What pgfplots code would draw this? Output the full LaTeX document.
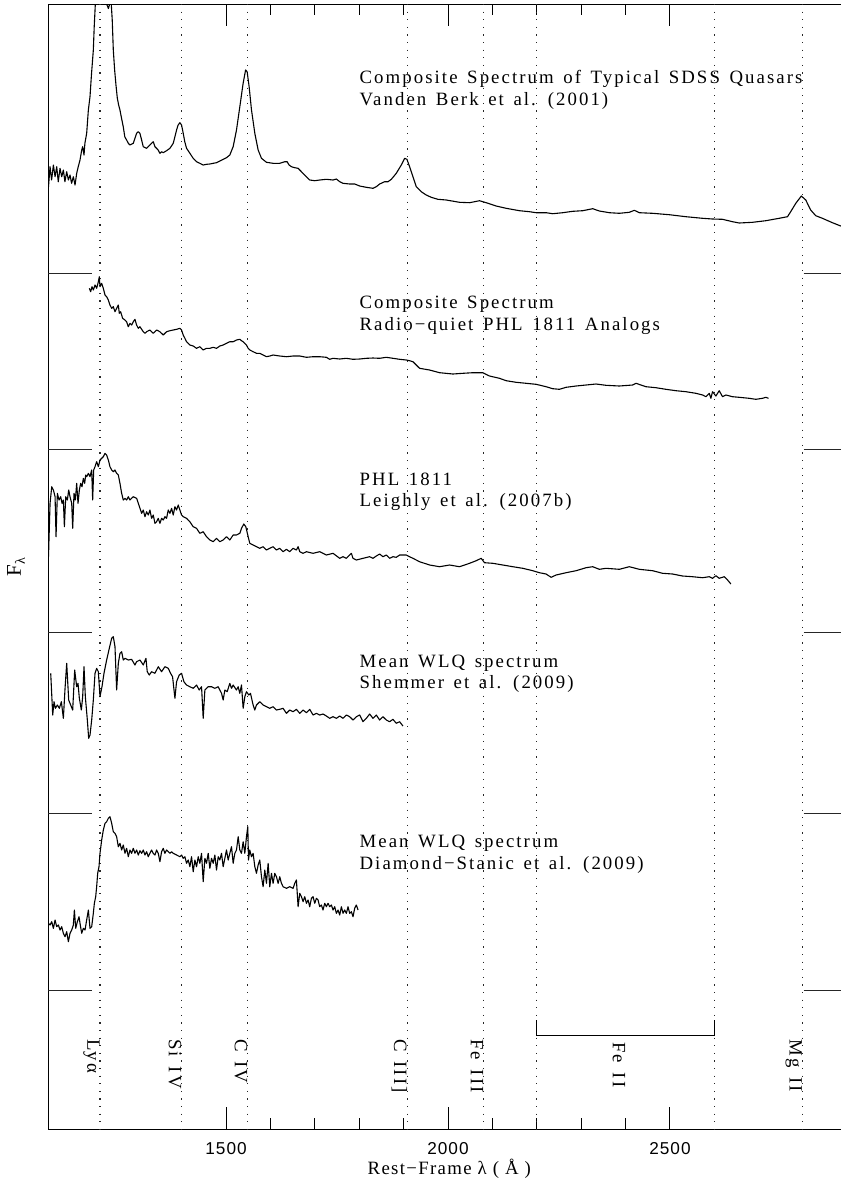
\documentclass[border=0pt]{standalone}
\usepackage{fontspec}
\setmainfont{Liberation Serif}
\newfontfamily\hfont{Liberation Serif}[LetterSpace=11]
\newfontfamily\xfont{Liberation Serif}[LetterSpace=7]
\newfontfamily\tfont{Liberation Sans}[LetterSpace=6]
\usepackage{pgfplots}
\pgfplotsset{compat=1.18}

\newcommand{\ann}{\fontsize{9.4}{11}\hfont\spaceskip=4.8pt\relax}
\tikzset{
  spec/.style={black, line width=0.55pt, mark=none, line join=round},
  dl/.style={black!85, line width=0.6pt, dash pattern=on 0.6pt off 3.2pt},
  tk/.style={black!85, line width=0.5pt},
  lab/.style={font=\ann, rotate=-90, anchor=north west, inner sep=0pt},
  txt/.style={font=\ann, anchor=base west, inner sep=0pt},
}

\begin{document}
\begin{tikzpicture}
\begin{axis}[
  at={(0,0)}, anchor=south west,
  scale only axis, width=399.5pt, height=562.5pt,
  xmin=1100, xmax=2900, ymin=4, ymax=1129, y dir=reverse,
  xtick={1500,2000,2500}, xticklabels={1500,2000,2500},
  minor x tick num=4,
  ytick=\empty,
  tick align=inside,
  major tick length=11pt, minor tick length=5.5pt,
  xticklabel style={font=\fontsize{8.6}{9}\tfont, anchor=north, inner sep=0pt, yshift=-6.5pt},
  axis line style={line width=0.5pt},
  every tick/.style={black, line width=0.5pt},
  clip mode=individual,
]

% reference lines
\pgfplotsinvokeforeach{1216,1400,1549,1909,2080,2200,2600,2798}{
  \draw[dl] (axis cs:#1,4) -- (axis cs:#1,1129);
}
% long y ticks (no values)
\pgfplotsinvokeforeach{273,449,632,813,990}{
  \draw[tk] (axis cs:1100,#1) -- (axis cs:1199,#1);
  \draw[tk] (axis cs:2801,#1) -- (axis cs:2900,#1);
}

% Vanden Berk et al. (2001)
\addplot[spec] coordinates {
(1100,186.7)(1103.5,166.7)(1107,180)(1111,165)(1114.8,176.7)(1118.5,166.7)(1122,181.7)(1126,168.3)
(1129.8,176.7)(1133.5,170)(1137,181.7)(1141,171.7)(1144.8,180)(1148.5,175)(1152,183.3)(1156,176.7)
(1159.8,185)(1163.5,173.3)(1167,166.7)(1171,160)(1174.8,150)(1177,146.7)(1180,155)(1182,143.3)
(1186,133.3)(1189.8,110)(1193.5,96.7)(1197,73.3)(1201,50)(1203,26.7)(1205.5,4)(1210,-90)(1216,-160)
(1223,-90)(1231,4)(1235,8.5)(1238.5,3)(1241,1)(1243.6,20)(1246,50)(1249,70)(1252,85)(1255,98)
(1258,105)(1261,110)(1264,117)(1268.5,127)(1272,137)(1276,140)(1279.8,143.3)(1283.5,145)(1291,143.3)
(1294.8,138.3)(1298.5,133.3)(1302,131.7)(1306,133.3)(1309.8,140)(1313.5,146.7)(1321,148.3)(1328.5,145)
(1332,143.3)(1336,141.7)(1339.8,146.7)(1343.5,148.3)(1347,150)(1351,153.3)(1354.8,151.7)(1358.5,152.7)
(1366,150.7)(1373.5,148.3)(1381,143.3)(1384.8,136.7)(1388.5,130)(1392,125)(1396,122.7)(1399.8,125)
(1403.5,133.3)(1407,141.7)(1411,148.3)(1418.5,153.3)(1426,158.3)(1433.5,161.7)(1441,163.3)(1448.5,165)
(1456,164.3)(1463.5,164)(1471,163.3)(1478.5,162.7)(1486,161)(1493.5,159.3)(1501,157.7)(1508.5,155)
(1516,146.7)(1523.5,130)(1531,106.7)(1538.5,83.3)(1544,70)(1547.5,71.7)(1552,86.7)(1557.3,110)
(1564.8,133.3)(1572.3,150)(1579.8,158.3)(1591,162.3)(1606,163.3)(1621,163.3)(1632.3,161.7)(1637.5,161.7)
(1642,165)(1647.3,166.7)(1654.8,167.7)(1662.3,168.3)(1669.8,171.7)(1681,176.7)(1688.5,180)(1699.8,180.7)
(1711,180)(1726,179.3)(1741,180)(1748.5,179)(1756,181.7)(1763.5,183.3)(1778.5,184)(1789.8,184)
(1801,186)(1816,187.3)(1831,188.3)(1838.5,186.7)(1846,184)(1857.3,181.7)(1864.8,181.7)(1872.3,179.3)
(1883.5,173.3)(1894.8,165)(1902.3,158.3)(1907.5,159.3)(1913.5,166.7)(1921,176.7)(1928.5,186.7)
(1939.8,191.7)(1951,195)(1962.3,197.3)(1977.3,199.3)(1996,200)(2026,202.3)(2048.5,202.7)(2071,200.7)
(2086,202.7)(2108.5,206)(2131,208.3)(2161,210.7)(2183.5,211.7)(2198.5,212.7)(2221,212.7)(2236,213.7)
(2258.5,212.7)(2281,211.3)(2303.5,210.7)(2326,208.7)(2341,211)(2363.5,212.7)(2386,213.3)(2408.5,212.3)
(2419.8,210.3)(2431,212.7)(2461,213.3)(2498.5,214.7)(2536,216.7)(2573.5,218.3)(2596,219)(2618.5,219.3)
(2641,221.7)(2656,223)(2686,222.3)(2716,220.7)(2746,218.3)(2764.8,216.7)(2772,211.7)(2783.5,203.3)
(2796,196)(2806,200)(2817,210)(2828.5,215.7)(2843.5,218.3)(2866,222.7)(2883,225.7)(2900,228)
};

% Radio-quiet PHL 1811 analogs
\addplot[spec] coordinates {
(1192,288.3)(1195,291.7)(1198,286.7)(1201,290)(1204.8,285)(1208.5,288.3)(1212.3,281.7)(1214.5,276.7)
(1216,286.7)(1219.8,283.3)(1223.5,288.3)(1227.3,295)(1231,296.7)(1234.8,300)(1238.5,305)(1242.3,308.3)
(1246,306.7)(1249.8,311.7)(1253.5,308.3)(1257.3,305)(1259.5,313.3)(1262.5,311.7)(1267,318.3)(1272.3,320)
(1276,321.7)(1279.8,326.7)(1283.5,323.3)(1287.3,325)(1291,321.7)(1294.8,319.3)(1298.5,325)(1302.3,328.3)
(1306,326.7)(1313.5,331.7)(1317.3,333.3)(1321,331.7)(1328.5,330)(1336,333.3)(1343.5,330)(1351,331.7)
(1358.5,335)(1366,331.7)(1373.5,330.7)(1381,330)(1388.5,329.3)(1396,328.3)(1399.8,330)(1403.5,335)
(1407.3,338.3)(1411,341.7)(1418.5,345)(1426,346)(1433.5,348.3)(1441,346.7)(1448.5,350)(1456,348.3)
(1463.5,348.3)(1471,347.3)(1478.5,348.3)(1486,346)(1493.5,345)(1501,343.3)(1508.5,341.7)(1516,341.7)
(1523.5,340)(1531,339.3)(1534.8,340.7)(1538.5,341.7)(1546,345)(1549.8,348.3)(1553.5,350)(1561,351.7)
(1568.5,353.3)(1576,353.3)(1583.5,355)(1591,356.7)(1598.5,356)(1606,355)(1621,356)(1636,356.7)
(1651,356)(1666,356)(1681,357.3)(1696,356.7)(1711,356.7)(1726,357.3)(1733.5,359.3)(1741,358.3)
(1756,359)(1771,358.3)(1786,359.3)(1801,359)(1816,358.3)(1831,358)(1846,358.3)(1861,357.3)
(1876,358.3)(1891,359.3)(1906,360)(1913.5,360.7)(1921,361.7)(1928.5,365)(1936,368.3)(1958.5,370)
(1981,372.7)(2011,374)(2033.5,373.3)(2056,372.7)(2078.5,372.7)(2093.5,376)(2116,378.3)(2131,380.7)
(2153.5,382.3)(2176,383.3)(2198.5,384.3)(2221,386.7)(2236,388.7)(2251,389.3)(2266,387.3)(2288.5,386)
(2311,385)(2333.5,384)(2356,385.3)(2386,386)(2416,385)(2423.5,383.3)(2446,386.7)(2468.5,387.7)
(2491,389.3)(2513.5,390.7)(2536,391.7)(2558.5,393.3)(2573.5,395)(2581,396.7)(2588.5,393.3)(2592.3,398.3)
(2596,391.7)(2603.5,396)(2611,390.7)(2618.5,396.7)(2626,395)(2641,396.7)(2656,397.3)(2678.5,398.3)
(2693.5,399.3)(2708.5,398.3)(2716,397.3)(2722,398.3)
};

% PHL 1811
\addplot[spec] coordinates {
(1100,556.7)(1103.5,503.3)(1107.3,486.7)(1111,490)(1114.8,496.7)(1117,536.7)(1120,493.3)(1123.8,500)
(1127.5,496.7)(1130.5,503.3)(1133.5,500)(1135.8,526.7)(1138.8,496.7)(1142.5,500)(1145.5,490)(1148.5,496.7)
(1152.3,503.3)(1154.5,528.3)(1157.5,493.3)(1160.5,500)(1163.5,483.3)(1166.5,503.3)(1169.5,490)(1172.5,483.3)
(1175.5,486.7)(1178.5,478.3)(1181.5,483.3)(1183.8,475)(1186,476.7)(1189.8,473.3)(1193.5,476.7)(1197.3,470)
(1199.5,500)(1201.8,470)(1204.8,466.7)(1208.5,461.7)(1212.3,466.7)(1216,460)(1219.8,458.3)(1223.5,456.7)
(1227.3,453.3)(1231,455)(1234.8,460)(1238.5,466.7)(1242.3,470)(1246,471.7)(1249.8,470)(1253.5,473.3)
(1257.3,475)(1261,483.3)(1264.8,493.3)(1268.5,500)(1272.3,498.3)(1276,500)(1279.8,496.7)(1283.5,500)
(1287.3,498.3)(1291,496.7)(1298.5,498.3)(1302.3,503.3)(1306,508.3)(1309.8,513.3)(1313.5,510)(1317.3,516.7)
(1321,511.7)(1324.8,515)(1328.5,510)(1332.3,518.3)(1336,515)(1339.8,523.3)(1343.5,521.7)(1347.3,518.3)
(1351,523.3)(1354.8,518.3)(1358.5,520)(1362.3,516.7)(1366,518.3)(1369.8,510)(1373.5,513.3)(1377.3,508.3)
(1381,515)(1384.8,506.7)(1388.5,510)(1392.3,505)(1396,510)(1399.8,515)(1403.5,516.7)(1411,518.3)
(1418.5,521.7)(1426,526.7)(1433.5,528.3)(1441,533.3)(1448.5,531.7)(1456,536.7)(1463.5,540)(1471,541.7)
(1478.5,538.3)(1486,541.7)(1493.5,540)(1501,536.7)(1508.5,540)(1516,535)(1523.5,535)(1531,533.3)
(1534.8,528.3)(1540,524)(1544.5,526.7)(1549.8,536.7)(1553.5,543.3)(1561,545)(1568.5,546.7)(1576,548.3)
(1583.5,546.7)(1591,550)(1598.5,548.3)(1606,546.7)(1613.5,550)(1621,548.3)(1628.5,551.7)(1636,549.3)
(1643.5,551.7)(1651,548.3)(1658.5,550)(1662.3,546.7)(1666,551.7)(1673.5,553.3)(1681,551.7)(1696,553.3)
(1711,551.7)(1726,555)(1741,553.3)(1756,558.3)(1763.5,556.7)(1771,558.3)(1778.5,555)(1782.3,553.3)
(1786,558.3)(1793.5,560)(1808.5,558.3)(1823.5,556.7)(1831,558.3)(1838.5,556)(1846,554)(1853.5,556.7)
(1861,555)(1868.5,558.3)(1876,556.7)(1883.5,557.3)(1891,555)(1906,555)(1913.5,556.7)(1921,558.3)
(1936,561.7)(1958.5,565)(1981,566.7)(2003.5,565)(2026,566.7)(2048.5,563.3)(2063.5,560.7)(2074.8,558.3)
(2082.3,562.7)(2101,563.3)(2123.5,565)(2146,566.7)(2168.5,568.3)(2191,570.7)(2206,572.7)(2221,574)
(2232.3,577.3)(2243.5,575)(2266,572.7)(2288.5,570.7)(2311,567.7)(2326,566.7)(2341,569.3)(2356,568.3)
(2386,569.3)(2408.5,566.7)(2431,569.3)(2461,570.7)(2483.5,573.3)(2506,574)(2528.5,576)(2551,576.7)
(2573.5,577.7)(2588.5,576.7)(2596,578.3)(2603.5,575.7)(2611,578.3)(2622.3,576.7)(2629.8,580)(2637.3,584)
};

% Shemmer et al. (2009)
\addplot[spec] coordinates {
(1105,673.3)(1109.5,715)(1112.5,701.7)(1115.5,708.3)(1120,705)(1124.5,708.3)(1129,701.7)(1133.5,718.3)
(1137.3,688.3)(1141,663.3)(1145.5,700)(1150,705)(1154.5,710)(1159,670)(1163.5,686.7)(1166.5,683.3)
(1169.5,698.3)(1174,710)(1177,696.7)(1180,666.7)(1183,696.7)(1187.5,720)(1190.5,738.3)(1193.5,735)
(1197.3,720)(1201,700)(1204.8,673.3)(1208.5,668.3)(1212.3,671.7)(1216,696.7)(1220.5,686.7)(1225,673.3)
(1231,660)(1237,648.3)(1242.3,638.3)(1246,636.7)(1249.8,646.7)(1253.5,690)(1257.3,663.3)(1261,653.3)
(1264.8,651.7)(1268.5,660)(1272.3,658.3)(1279.8,660)(1287.3,659.3)(1294.8,665)(1298.5,661.7)(1306,660)
(1313.5,665)(1319.5,658.3)(1322.5,671.7)(1327,675)(1332.3,671.7)(1339.8,673.3)(1347.3,666.7)(1354.8,671.7)
(1362.3,666.7)(1369.8,668.3)(1375,673.3)(1379.5,676.7)(1384.8,698.3)(1388.5,681.7)(1394.5,675)(1399.8,673.3)
(1405,681.7)(1411,685)(1418.5,686.7)(1426,688.3)(1433.5,685)(1439.5,690)(1444.8,686.7)(1448.5,718.3)
(1452.3,690)(1459.8,686.7)(1467.3,686.7)(1474.8,688.3)(1482.3,686.7)(1489.8,693.3)(1493.5,700)(1497.3,690)
(1502.5,691.7)(1508.5,683.3)(1512.3,688.3)(1516,685)(1523.5,690)(1527.3,686.7)(1531,693.3)(1534.8,685)
(1538.5,708.3)(1542.3,696.7)(1546,691.7)(1551.3,695)(1555,693.3)(1561,705)(1564.8,710)(1568.5,705)
(1576,701.7)(1583.5,705)(1591,706.7)(1598.5,708.3)(1606,706.7)(1613.5,710)(1621,709.3)(1628.5,708.3)
(1636,713.3)(1643.5,710)(1651,711.7)(1658.5,709.3)(1666,713.3)(1673.5,710)(1681,712.7)(1688.5,709.3)
(1696,715)(1703.5,713.3)(1711,715)(1718.5,714)(1726,716)(1733.5,718.3)(1741,716.7)(1748.5,718.3)
(1756,716)(1763.5,718.3)(1771,715)(1778.5,716.7)(1786,720)(1793.5,716.7)(1801,715)(1808.5,721.7)
(1816,718.3)(1823.5,714)(1831,718.3)(1838.5,715)(1846,720)(1853.5,716.7)(1861,720)(1868.5,721.7)
(1876,719.3)(1883.5,723.3)(1891,721.7)(1898.5,726)
};

% Diamond-Stanic et al. (2009)
\addplot[spec] coordinates {
(1100,923.3)(1103.5,925)(1107.3,921.7)(1111,928.3)(1114.8,920)(1118.5,926.7)(1122.3,925)(1126,930)
(1129.8,926.7)(1133.5,933.3)(1137.3,936.7)(1141,931.7)(1144.8,941.7)(1148.5,933.3)(1152.3,930)(1156,925)
(1158.3,910)(1161.3,928.3)(1165,921.7)(1168.8,916.7)(1171,923.3)(1174.8,933.3)(1178.5,928.3)(1182.3,930)
(1186,920)(1189.8,910)(1193.5,928.3)(1197.3,926.7)(1201,913.3)(1203.3,903.3)(1206.3,896.7)(1208.5,886.7)
(1210.8,873.3)(1213.8,866.7)(1216,853.3)(1219.8,840)(1223.5,830)(1227.3,823.3)(1231,821.7)(1234.8,818.3)
(1238.5,816.7)(1242.3,823.3)(1246,831.7)(1249.8,833.3)(1253.5,836.7)(1257.3,846.7)(1261,843.3)(1264.8,850)
(1268.5,845)(1272.3,853.3)(1276,848.3)(1279.8,856.7)(1283.5,850)(1287.3,853.3)(1291,848.3)(1294.8,853.3)
(1298.5,850)(1302.3,855)(1306,850.7)(1309.8,853.3)(1313.5,850)(1317.3,855)(1321,851.7)(1324.8,856.7)
(1328.5,853.3)(1332.3,850)(1336,853.3)(1339.8,855)(1343.5,850)(1347.3,853.3)(1351,861.7)(1354.8,851.7)
(1358.5,848.3)(1362.3,853.3)(1366,850)(1369.8,851.7)(1373.5,853.3)(1377.3,851.7)(1381,853.3)(1388.5,855)
(1396,856.7)(1399.8,855)(1403.5,858.3)(1407.3,856.7)(1411,863.3)(1414.8,860)(1418.5,866.7)(1422.3,856.7)
(1426,871.7)(1429.8,860)(1433.5,866.7)(1437.3,856.7)(1441,863.3)(1444.8,853.3)(1448.5,881.7)(1452.3,858.3)
(1456,863.3)(1459.8,853.3)(1463.5,868.3)(1467.3,858.3)(1471,863.3)(1474.8,855)(1478.5,870)(1482.3,856.7)
(1486,860)(1489.8,853.3)(1493.5,866.7)(1497.3,858.3)(1501,850)(1504.8,860)(1508.5,853.3)(1512.3,846.7)
(1516,863.3)(1519.8,853.3)(1523.5,850)(1527.3,836.7)(1531,850)(1534.8,853.3)(1538.5,841.7)(1542.3,853.3)
(1546,836.7)(1549,826.7)(1550.5,860)(1553.5,850)(1557.3,856.7)(1561,853.3)(1564.8,866.7)(1568.5,873.3)
(1572.3,865)(1576,860)(1579.8,876.7)(1583.5,886.7)(1587.3,870)(1591,883.3)(1594.8,863.3)(1598.5,886.7)
(1602.3,873.3)(1606,883.3)(1609.8,873.3)(1613.5,876.7)(1617.3,883.3)(1621,876.7)(1624.8,883.3)(1628.5,886.7)
(1636,888.3)(1643.5,886.7)(1651,888.3)(1654.8,883.3)(1658.5,880)(1662.3,906.7)(1666,893.3)(1669.8,896.7)
(1673.5,901.7)(1677.3,896.7)(1681,903.3)(1684.8,900)(1688.5,906.7)(1692.3,898.3)(1696,896.7)(1699.8,903.3)
(1703.5,898.3)(1707.3,900)(1711,906.7)(1714.8,905)(1718.5,910)(1722.3,903.3)(1726,906.7)(1729.8,903.3)
(1733.5,906.7)(1737.3,905)(1741,910)(1744.8,906.7)(1748.5,913.3)(1752.3,910)(1756,915)(1759.8,906.7)
(1763.5,913.3)(1767.3,910)(1771,913.3)(1774.8,906.7)(1778.5,913.3)(1782.3,911.7)(1786,916.7)(1789.8,908.3)
(1793.5,905)(1797.3,910)
};

% Fe II bracket
\draw[black, line width=0.5pt] (axis cs:2200,1020) -- (axis cs:2200,1035) -- (axis cs:2600,1035) -- (axis cs:2600,1020);

% line identifications
\node[lab, xshift=-1.5pt] at (axis cs:1216,1042) {Lyα};
\node[lab, xshift=-1.5pt] at (axis cs:1400,1042) {Si IV};
\node[lab, xshift=-1.5pt] at (axis cs:1549,1042) {C IV};
\node[lab, xshift=-1.5pt] at (axis cs:1909,1042) {C III]};
\node[lab, xshift=-1.5pt] at (axis cs:2080,1042) {Fe III};
\node[lab] at (axis cs:2400,1042) {Fe II};
\node[lab, xshift=-1.5pt] at (axis cs:2798,1042) {Mg II};

% spectrum labels
\node[txt] at (axis cs:1800,83) {Composite Spectrum of Typical SDSS Quasars};
\node[txt] at (axis cs:1800,105) {Vanden Berk et al. (2001)};
\node[txt] at (axis cs:1800,308) {Composite Spectrum};
\node[txt] at (axis cs:1800,330) {Radio−quiet PHL 1811 Analogs};
\node[txt] at (axis cs:1800,485) {PHL 1811};
\node[txt] at (axis cs:1800,506) {Leighly et al. (2007b)};
\node[txt] at (axis cs:1800,667) {Mean WLQ spectrum};
\node[txt] at (axis cs:1800,688) {Shemmer et al. (2009)};
\node[txt] at (axis cs:1800,847) {Mean WLQ spectrum};
\node[txt] at (axis cs:1800,869) {Diamond−Stanic et al. (2009)};

% axis labels
\node[font=\fontsize{9.4}{11}\xfont, anchor=base, inner sep=0pt] at (axis cs:2003,1174) {Rest−Frame λ ( Å )};
\node[font=\fontsize{10.5}{12}\xfont, rotate=90, inner sep=0pt] at (axis cs:1027,567) {F\raisebox{-2pt}{\fontsize{7}{7}\selectfont λ}};
\end{axis}
\pgfresetboundingbox
\path[use as bounding box] (-24.25pt,-25pt) rectangle (396.25pt,564.5pt);
\end{tikzpicture}
\end{document}
